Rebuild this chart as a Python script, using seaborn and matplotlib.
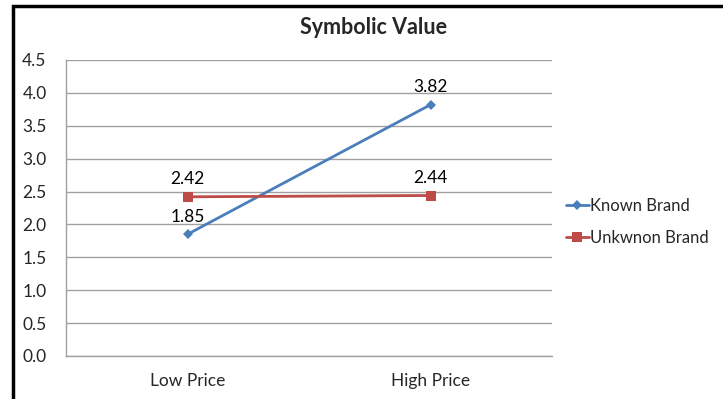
import matplotlib
matplotlib.use("Agg")
import matplotlib.pyplot as plt
import seaborn as sns
import pandas as pd
from matplotlib.patches import Rectangle
from matplotlib.lines import Line2D

categories = ["Low Price", "High Price"]
known_brand = [1.85, 3.82]
unknown_brand = [2.42, 2.44]
series_names = ["Known Brand", "Unkwnon Brand"]
y_ticks = [0.0, 0.5, 1.0, 1.5, 2.0, 2.5, 3.0, 3.5, 4.0, 4.5]

sns.set_theme(style="white")
plt.rcParams['font.family'] = ['Lato', 'DejaVu Sans']

df = pd.DataFrame({
    "Category": categories * 2,
    "x": [0, 1] * 2,
    "Value": known_brand + unknown_brand,
    "Series": [series_names[0]] * 2 + [series_names[1]] * 2,
})

colors = {"Known Brand": "#4A7EBB", "Unkwnon Brand": "#BE4B48"}
markers = {"Known Brand": "D", "Unkwnon Brand": "s"}
FS = 12.5

fig = plt.figure(figsize=(7.23, 3.99), dpi=100)
ax = fig.add_axes([66/723, 1-356/399, (552-66)/723, (356-60)/399])

sns.lineplot(data=df, x="x", y="Value", hue="Series", style="Series",
             palette=colors, markers=markers, dashes=False, ax=ax,
             linewidth=2, legend=False)
for line, name in zip(ax.lines, series_names):
    line.set_markersize(5 if name == "Known Brand" else 6.5)
    line.set_markeredgewidth(0)

for name, vals in zip(series_names, [known_brand, unknown_brand]):
    for i, v in enumerate(vals):
        ax.annotate(f"{v:.2f}", (i, v), xytext=(0, 7), textcoords="offset points",
                    ha="center", va="bottom", fontsize=FS, color="#000000")

ax.set_xlim(-0.5, 1.5)
ax.set_ylim(0, 4.5)
ax.set_yticks(y_ticks)
ax.set_yticklabels([f"{t:.1f}" for t in y_ticks], fontsize=FS)
ax.set_xticks([0, 1])
ax.set_xticklabels(categories, fontsize=FS)
ax.set_xlabel("")
ax.set_ylabel("")
ax.tick_params(axis="x", length=0, pad=12)
ax.tick_params(axis="y", length=0, pad=14)
ax.grid(axis="y", color="#A0A0A0", linewidth=1)
ax.set_axisbelow(True)
for s in ["top", "right"]:
    ax.spines[s].set_visible(False)
for s in ["left", "bottom"]:
    ax.spines[s].set_color("#A0A0A0")
    ax.spines[s].set_linewidth(1)

handles = [Line2D([], [], color=colors[n], marker=markers[n],
                  markersize=5 if n == "Known Brand" else 6.5,
                  markeredgewidth=0, linewidth=2) for n in series_names]
fig.legend(handles, series_names, loc="center left", bbox_to_anchor=(566/723, 1-222/399),
           frameon=False, fontsize=12, handlelength=1.35, handletextpad=0.08,
           labelspacing=0.95, borderaxespad=0, borderpad=0)

fig.text(373/723, 1-28/399, "Symbolic Value", ha="center", va="center",
         fontsize=15.5, fontweight="bold")

fig.patches.append(Rectangle((13/723, -0.05), 1.0, 1-6/399 + 0.05, transform=fig.transFigure,
                             fill=False, edgecolor="black", linewidth=2.5))

fig.savefig("out.png", dpi=100)
